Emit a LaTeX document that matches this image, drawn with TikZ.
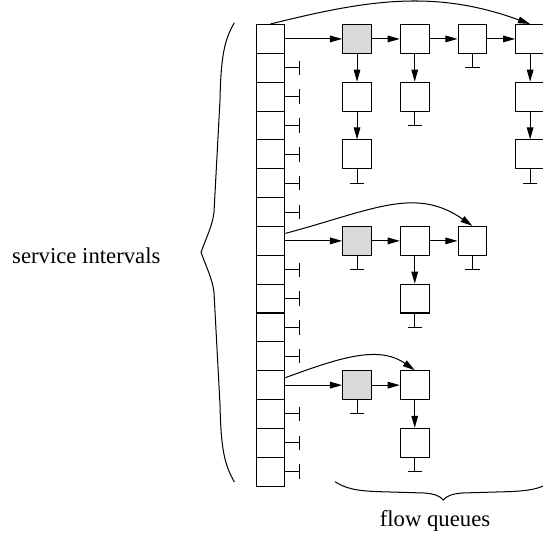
\documentclass[tikz,border=0pt]{standalone}
\usepackage{fontspec}
\setmainfont{Liberation Serif}
\usetikzlibrary{arrows.meta}
\begin{document}
\begin{tikzpicture}
		[	slot/.style={rectangle,draw=black,minimum size=.5cm,inner sep=0pt},
		pkt/.style={rectangle,draw=black,fill=white,minimum size=.5cm,inner sep=0pt},
		head/.style={pkt,fill=black!15},
		ptr/.style={-{Triangle[length=2.1mm,width=1.15mm]}},
		nil/.style={-{Bar[width=2.5mm]}},
		lbl/.style={font=\fontsize{11.2}{13}\selectfont,inner sep=0pt,anchor=base west},
		line width=.5pt
		]
		\useasboundingbox (-4.688,.675) rectangle (4.723,-8.563);
		% service interval slots
		\node[slot] (s0) at (0,0){};
		\node[slot] (s1) at (0,-.5){};
		\node[slot] (s2) at (0,-1){};
		\node[slot] (s3) at (0,-1.5){};
		\node[slot] (s4) at (0,-2){};
		\node[slot] (s5) at (0,-2.5){};
		\node[slot] (s6) at (0,-3){};
		\node[slot] (s7) at (0,-3.5){};
		\node[slot] (s8) at (0,-4){};
		\node[slot] (s9) at (0,-4.5){};
		\node[slot] (s10) at (0,-5){};
		\node[slot] (s11) at (0,-5.5){};
		\node[slot] (s12) at (0,-6){};
		\node[slot] (s13) at (0,-6.5){};
		\node[slot] (s14) at (0,-7){};
		\node[slot] (s15) at (0,-7.5){};

\draw[nil] (s1.east) -- ++(.25,0);
\draw[nil] (s2.east) -- ++(.25,0);
\draw[nil] (s3.east) -- ++(.25,0);
\draw[nil] (s4.east) -- ++(.25,0);
\draw[nil] (s5.east) -- ++(.25,0);
\draw[nil] (s6.east) -- ++(.25,0);
\draw[nil] (s8.east) -- ++(.25,0);
\draw[nil] (s9.east) -- ++(.25,0);
\draw[nil] (s10.east) -- ++(.25,0);
\draw[nil] (s11.east) -- ++(.25,0);
\draw[nil] (s13.east) -- ++(.25,0);
\draw[nil] (s14.east) -- ++(.25,0);
\draw[nil] (s15.east) -- ++(.25,0);

		% first slot
		\node[head] (a) at (1.5,0){};
		\node[pkt] (b) at (2.5,0){};
		\node[pkt] (c) at (3.5,0){};
		\node[pkt] (d) at (4.5,0){};
		\node[pkt] (a1) at (1.5,-1){};
		\node[pkt] (a2) at (1.5,-2){};
		\node[pkt] (b1) at (2.5,-1){};
		\node[pkt] (d1) at (4.5,-1){};
		\node[pkt] (d2) at (4.5,-2){};
		\draw[ptr] (s0.east) -- (a.west);
		\draw[ptr] (a.east) -- (b.west);
		\draw[ptr] (b.east) -- (c.west);
		\draw[ptr] (c.east) -- (d.west);
		\draw[ptr] (a.south) -- (a1.north);
		\draw[ptr] (a1.south) -- (a2.north);
		\draw[ptr] (b.south) -- (b1.north);
		\draw[ptr] (d.south) -- (d1.north);
		\draw[ptr] (d1.south) -- (d2.north);
		\draw[nil] (a2.south) -- ++(0,-.25);
		\draw[nil] (b1.south) -- ++(0,-.25);
		\draw[nil] (c.south) -- ++(0,-.25);
		\draw[nil] (d2.south) -- ++(0,-.25);
		\draw[ptr] (s0.north) to[out=14,in=160] (d.north);

		% second slot
		\node[head] (e) at (1.5,-3.5){};
		\node[pkt] (f) at (2.5,-3.5){};
		\node[pkt] (g) at (3.5,-3.5){};
		\node[pkt] (f1) at (2.5,-4.5){};
		\draw[ptr] (s7.east) -- (e.west);
		\draw[ptr] (e.east) -- (f.west);
		\draw[ptr] (f.east) -- (g.west);
		\draw[ptr] (f.south) -- (f1.north);
		\draw[nil] (e.south) -- ++(0,-.25);
		\draw[nil] (g.south) -- ++(0,-.25);
		\draw[nil] (f1.south) -- ++(0,-.25);
		\draw[ptr] ([yshift=1.3mm]s7.east) to[out=15,in=145,out distance=1.56cm,in distance=1.21cm] (g.north);

		% third slot
		\node[head] (h) at (1.5,-6){};
		\node[pkt] (i) at (2.5,-6){};
		\node[pkt] (i1) at (2.5,-7){};
		\draw[ptr] (s12.east) -- (h.west);
		\draw[ptr] (h.east) -- (i.west);
		\draw[ptr] (i.south) -- (i1.north);
		\draw[nil] (h.south) -- ++(0,-.25);
		\draw[nil] (i1.south) -- ++(0,-.25);
		\draw[ptr] ([yshift=1.3mm]s12.east) to[out=20,in=145,out distance=.95cm,in distance=.78cm] (i.north);

		% braces
		\draw (-.627,.281) .. controls (-.797,-.019) and (-.858,-.279) .. (-.875,-1.058)
			-- (-.979,-3) .. controls (-1.005,-3.242) and (-1.118,-3.45) .. (-1.204,-3.698)
			.. controls (-1.118,-3.946) and (-1.005,-4.154) .. (-.979,-4.396)
			-- (-.875,-6.338) .. controls (-.858,-7.117) and (-.797,-7.377) .. (-.627,-7.677);
		\draw (1.118,-7.674) .. controls (1.291,-7.783) and (1.464,-7.835) .. (1.898,-7.847)
			-- (2.678,-7.87) .. controls (2.851,-7.887) and (2.938,-7.922) .. (2.995,-7.991)
			.. controls (3.052,-7.922) and (3.139,-7.887) .. (3.312,-7.87)
			-- (4.092,-7.847) .. controls (4.525,-7.835) and (4.698,-7.783) .. (4.872,-7.674);
		\node[lbl] (si) at (-4.485,-3.889){service intervals};
		\node[lbl] (fq) at (1.886,-8.454){flow queues};
	\end{tikzpicture}
\end{document}
